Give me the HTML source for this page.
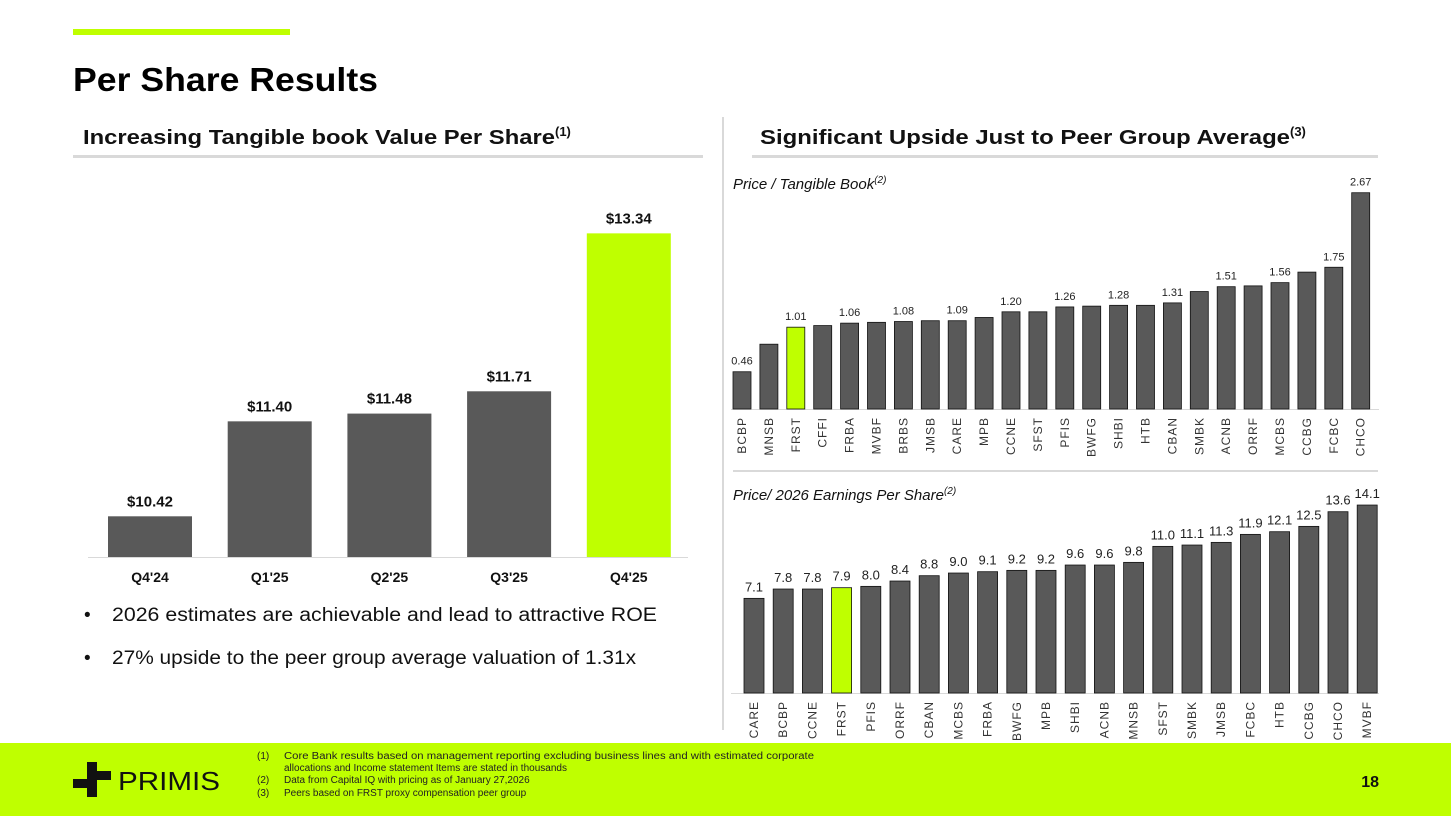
<!DOCTYPE html>
<html><head><meta charset="utf-8"><style>
html,body{margin:0;padding:0;background:#fff;}
svg{display:block;font-family:"Liberation Sans",Arial,sans-serif;}
</style></head><body>
<svg id="s" width="1451" height="816" viewBox="0 0 1451 816" xmlns="http://www.w3.org/2000/svg">
<rect x="0" y="0" width="1451" height="816" fill="#fff"/>
<rect x="73" y="29" width="217" height="6" fill="#bfff00"/>
<text x="73" y="91" font-size="33" font-weight="bold" fill="#000" textLength="305" lengthAdjust="spacingAndGlyphs">Per Share Results</text>
<text x="83" y="144" font-size="20" font-weight="bold" fill="#111"><tspan textLength="472" lengthAdjust="spacingAndGlyphs">Increasing Tangible book Value Per Share</tspan><tspan font-size="13" dy="-8">(1)</tspan></text>
<rect x="73" y="155" width="630" height="3" fill="#d9d9d9"/>
<text x="760" y="144" font-size="20" font-weight="bold" fill="#111"><tspan textLength="530" lengthAdjust="spacingAndGlyphs">Significant Upside Just to Peer Group Average</tspan><tspan font-size="13" dy="-8">(3)</tspan></text>
<rect x="752" y="155" width="626" height="3" fill="#d9d9d9"/>
<rect x="722" y="117" width="2" height="613" fill="#d9d9d9"/>
<rect x="733" y="470" width="645" height="2" fill="#d9d9d9"/>
<g id="left"></g>
<g id="ptb">
<text x="733" y="189" font-size="15" font-style="italic" fill="#111">Price / Tangible Book<tspan font-size="10" dy="-6">(2)</tspan></text>
</g>
<g id="pe">
<text x="733" y="500" font-size="15" font-style="italic" fill="#111">Price/ 2026 Earnings Per Share<tspan font-size="10" dy="-6">(2)</tspan></text>
</g>
<text x="84" y="621" font-size="19" fill="#111">•<tspan x="112" textLength="545" lengthAdjust="spacingAndGlyphs">2026 estimates are achievable and lead to attractive ROE</tspan></text>
<text x="84" y="664" font-size="19" fill="#111">•<tspan x="112" textLength="524" lengthAdjust="spacingAndGlyphs">27% upside to the peer group average valuation of 1.31x</tspan></text>
<rect x="0" y="743" width="1451" height="73" fill="#bfff00"/>
<g>
<path d="M87 762 h10 v9 h14 v9 h-14 v17 h-10 v-9 h-14 v-9 h14 z" fill="#111"/>
<text x="118" y="790" font-size="26" fill="#111" textLength="102" lengthAdjust="spacingAndGlyphs">PRIMIS</text>
</g>
<g font-size="10" fill="#222">
<text x="257" y="759">(1)</text><text x="284" y="759" textLength="530" lengthAdjust="spacingAndGlyphs">Core Bank results based on management reporting excluding business lines and with estimated corporate</text>
<text x="284" y="771">allocations and Income statement Items are stated in thousands</text>
<text x="257" y="783">(2)</text><text x="284" y="783">Data from Capital IQ with pricing as of January 27,2026</text>
<text x="257" y="796">(3)</text><text x="284" y="796">Peers based on FRST proxy compensation peer group</text>
</g>
<text x="1379" y="787" font-size="16" font-weight="bold" text-anchor="end" fill="#111">18</text>
</svg>
<script>
const tbvCats=["Q4'24","Q1'25","Q2'25","Q3'25","Q4'25"];
const tbvVals=[10.42,11.40,11.48,11.71,13.34];
const tbvLabels=["$10.42","$11.40","$11.48","$11.71","$13.34"];
const ptbCats=["BCBP","MNSB","FRST","CFFI","FRBA","MVBF","BRBS","JMSB","CARE","MPB","CCNE","SFST","PFIS","BWFG","SHBI","HTB","CBAN","SMBK","ACNB","ORRF","MCBS","CCBG","FCBC","CHCO"];
const ptbVals=[0.46,0.80,1.01,1.03,1.06,1.07,1.08,1.09,1.09,1.13,1.20,1.20,1.26,1.27,1.28,1.28,1.31,1.45,1.51,1.52,1.56,1.69,1.75,2.67];
const ptbShown=["0.46","","1.01","","1.06","","1.08","","1.09","","1.20","","1.26","","1.28","","1.31","","1.51","","1.56","","1.75","2.67"];
const peCats=["CARE","BCBP","CCNE","FRST","PFIS","ORRF","CBAN","MCBS","FRBA","BWFG","MPB","SHBI","ACNB","MNSB","SFST","SMBK","JMSB","FCBC","HTB","CCBG","CHCO","MVBF"];
const peVals=[7.1,7.8,7.8,7.9,8.0,8.4,8.8,9.0,9.1,9.2,9.2,9.6,9.6,9.8,11.0,11.1,11.3,11.9,12.1,12.5,13.6,14.1];
const NS="http://www.w3.org/2000/svg";
function mk(parent,tag,attrs,txt){const e=document.createElementNS(NS,tag);for(const k in attrs)e.setAttribute(k,attrs[k]);if(txt!==undefined)e.textContent=txt;parent.appendChild(e);return e;}
const HL="#bfff00",DK="#595959";
(function(){
const g=document.getElementById('left');
const base=557,x0=108,step=119.7,w=84,vmin=10.0,k=96.9;
const y=v=>base-(v-vmin)*k;
mk(g,'rect',{x:88,y:base,width:600,height:1,fill:'#d9d9d9'});
tbvVals.forEach((v,i)=>{
 const x=x0+i*step;
 const r=mk(g,'rect',{x:x,y:y(v),width:w,height:base-y(v),fill:i===tbvVals.length-1?HL:DK});
 
 
 const t=mk(g,'text',{x:x+w/2,y:y(v)-10,'font-size':15,'font-weight':'bold','text-anchor':'middle',fill:'#111'},tbvLabels[i]);
 
 
 const c=mk(g,'text',{x:x+w/2,y:582,'font-size':14,'font-weight':'bold','text-anchor':'middle',fill:'#111'},tbvCats[i]);
 
 
});
})();
function small(gid,cats,vals,shown,base,x0,step,w,k,hi,prefix,fs){
const g=document.getElementById(gid);
mk(g,'rect',{x:731,y:base,width:648,height:1,fill:'#d9d9d9'});
vals.forEach((v,i)=>{
 const x=x0+i*step,h=v*k;
 const r=mk(g,'rect',{x:x,y:base-h,width:w,height:h,fill:cats[i]===hi?HL:DK,stroke:'#111','stroke-width':0.8});
 
 
 const lab=shown?shown[i]:v.toFixed(1);
 if(lab){const t=mk(g,'text',{x:x+w/2,y:base-h-7,'font-size':fs,'text-anchor':'middle',fill:'#222'},lab);
 
 }
 const c=mk(g,'text',{x:0,y:0,'font-size':12,'text-anchor':'end',fill:'#333',transform:'translate('+(x+w/2+4)+','+(base+8)+') rotate(-90)','letter-spacing':'1'},cats[i]);
 
 
});
}
small('ptb',ptbCats,ptbVals,ptbShown,409,733,26.9,18,81,'FRST','ptb',11);
small('pe',peCats,peVals,null,693,744,29.2,20,13.33,'FRST','pe',13);
</script>
</body></html>
